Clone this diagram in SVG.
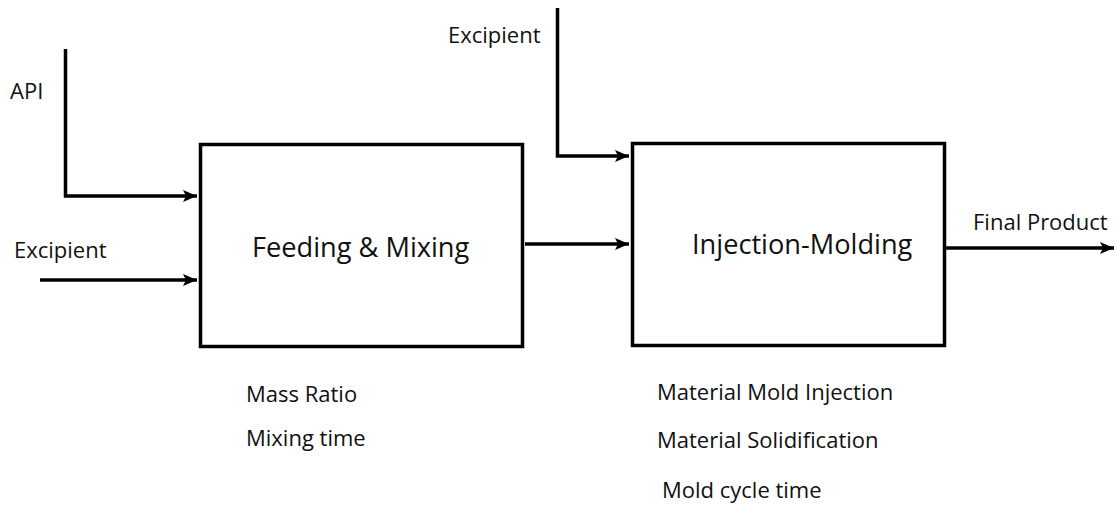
<svg xmlns="http://www.w3.org/2000/svg" width="1117" height="510" viewBox="0 0 1117 510">
<style>
.box{fill:#fff;stroke:#000;stroke-width:3.5}
.ln{fill:none;stroke:#000;stroke-width:3.5}
.t{font-family:"Open Sans","Noto Sans",sans-serif;font-size:22px;fill:#111}
.tb{font-family:"Open Sans","Noto Sans",sans-serif;font-size:27.2px;fill:#111}
</style>
<defs>
<marker id="ah" markerUnits="userSpaceOnUse" markerWidth="16" markerHeight="12" refX="14" refY="6" orient="auto">
<polygon points="0,0 14,6 0,12 3,6" fill="#000"/>
</marker>
</defs>
<rect width="1117" height="510" fill="#fff"/>
<g id="connectors">
<polyline class="ln" points="65.5,49 65.5,196 197,196" marker-end="url(#ah)"/>
<line class="ln" x1="40" y1="280" x2="197" y2="280" marker-end="url(#ah)"/>
<line class="ln" x1="525" y1="244" x2="629" y2="244" marker-end="url(#ah)"/>
<polyline class="ln" points="557.5,8 557.5,156 629,156" marker-end="url(#ah)"/>
<line class="ln" x1="946" y1="248" x2="1114" y2="248" marker-end="url(#ah)"/>
</g>
<g id="node-feeding">
<rect class="box" x="200.5" y="144.5" width="322" height="202"/>
<text class="tb" x="252" y="257">Feeding &amp; Mixing</text>
</g>
<g id="node-injection">
<rect class="box" x="632.5" y="143.5" width="312" height="202"/>
<text class="tb" x="692" y="254">Injection-Molding</text>
</g>
<g id="labels">
<text class="t" x="10" y="99">API</text>
<text class="t" x="14" y="258">Excipient</text>
<text class="t" x="448" y="43">Excipient</text>
<text class="t" x="973" y="230">Final Product</text>
<text class="t" x="246" y="402">Mass Ratio</text>
<text class="t" x="246" y="446">Mixing time</text>
<text class="t" x="657" y="400">Material Mold Injection</text>
<text class="t" x="657" y="448">Material Solidification</text>
<text class="t" x="662" y="498">Mold cycle time</text>
</g>
</svg>
